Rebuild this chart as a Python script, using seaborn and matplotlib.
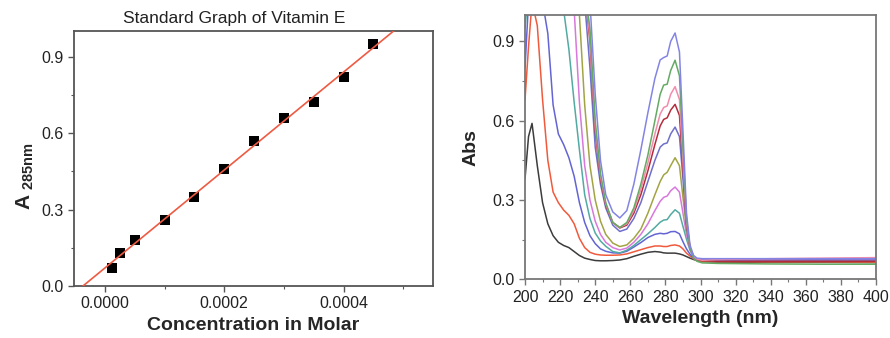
import matplotlib
matplotlib.use('Agg')
import matplotlib.pyplot as plt
import pandas as pd
import seaborn as sns
from matplotlib.ticker import MultipleLocator, FormatStrFormatter

# --- standard graph (left) ---
conc = [0.0000125, 0.000025, 0.00005, 0.0001, 0.00015, 0.0002,
        0.00025, 0.0003, 0.00035, 0.0004, 0.00045]
a285 = [0.072, 0.13, 0.18, 0.26, 0.35, 0.46, 0.57, 0.66, 0.72, 0.82, 0.95]

# --- UV spectra (right) ---
wl = [200, 202, 204, 207, 210, 213, 216, 219, 222, 225,
      228, 231, 234, 237, 240, 243, 246, 250, 254, 258,
      262, 266, 270, 274, 277, 279, 281, 283, 285.5, 288,
      290, 292, 294, 296, 298, 301, 310, 340, 370, 400]

abs_0 = [0.38, 0.54, 0.59, 0.43, 0.29, 0.21, 0.165, 0.14, 0.128, 0.12,
         0.105, 0.09, 0.08, 0.075, 0.071, 0.07, 0.07, 0.071, 0.073, 0.078,
         0.087, 0.095, 0.102, 0.105, 0.103, 0.10, 0.099, 0.099, 0.099, 0.096,
         0.092, 0.086, 0.08, 0.075, 0.071, 0.067, 0.065, 0.064, 0.064, 0.063]
abs_1 = [0.68, 0.88, 1.05, 0.96, 0.68, 0.45, 0.33, 0.29, 0.262, 0.242,
         0.21, 0.155, 0.12, 0.102, 0.095, 0.092, 0.091, 0.091, 0.092, 0.096,
         0.104, 0.112, 0.12, 0.126, 0.126, 0.124, 0.124, 0.128, 0.13, 0.126,
         0.115, 0.099, 0.088, 0.078, 0.072, 0.068, 0.067, 0.066, 0.066, 0.065]
abs_2 = [0.8, 1.05, 1.1, 1.1, 1.05, 0.93, 0.66, 0.55, 0.51, 0.46,
         0.39, 0.29, 0.215, 0.165, 0.135, 0.115, 0.106, 0.10, 0.099, 0.106,
         0.122, 0.139, 0.158, 0.17, 0.174, 0.172, 0.174, 0.18, 0.181, 0.172,
         0.142, 0.115, 0.095, 0.08, 0.074, 0.072, 0.073, 0.074, 0.074, 0.075]
abs_3 = [0.95, 1.1, 1.1, 1.1, 1.1, 1.1, 1.1, 1.1, 1.02, 0.87,
         0.67, 0.49, 0.32, 0.23, 0.175, 0.145, 0.125, 0.105, 0.10, 0.11,
         0.128, 0.15, 0.172, 0.196, 0.216, 0.224, 0.226, 0.245, 0.263, 0.25,
         0.2, 0.152, 0.11, 0.086, 0.076, 0.072, 0.07, 0.07, 0.07, 0.07]
abs_4 = [1.1, 1.1, 1.1, 1.1, 1.1, 1.1, 1.1, 1.1, 1.1, 1.1,
         1.02, 0.67, 0.43, 0.30, 0.22, 0.17, 0.14, 0.12, 0.111, 0.118,
         0.14, 0.17, 0.21, 0.26, 0.295, 0.31, 0.315, 0.335, 0.349, 0.33,
         0.25, 0.17, 0.115, 0.085, 0.075, 0.072, 0.072, 0.072, 0.073, 0.074]
abs_5 = [1.1, 1.1, 1.1, 1.1, 1.1, 1.1, 1.1, 1.1, 1.1, 1.1,
         1.1, 1.0, 0.66, 0.43, 0.30, 0.22, 0.17, 0.137, 0.124, 0.13,
         0.155, 0.19, 0.25, 0.32, 0.37, 0.395, 0.405, 0.43, 0.46, 0.43,
         0.31, 0.19, 0.12, 0.088, 0.075, 0.07, 0.068, 0.068, 0.068, 0.068]
abs_6 = [1.1, 1.1, 1.1, 1.1, 1.1, 1.1, 1.1, 1.1, 1.1, 1.1,
         1.1, 1.1, 1.05, 0.8, 0.5, 0.36, 0.27, 0.205, 0.181, 0.19,
         0.23, 0.29, 0.37, 0.45, 0.5, 0.512, 0.516, 0.55, 0.576, 0.54,
         0.38, 0.2, 0.12, 0.088, 0.078, 0.074, 0.073, 0.073, 0.073, 0.073]
abs_7 = [1.1, 1.1, 1.1, 1.1, 1.1, 1.1, 1.1, 1.1, 1.1, 1.1,
         1.1, 1.1, 1.1, 0.9, 0.56, 0.38, 0.28, 0.215, 0.194, 0.205,
         0.25, 0.32, 0.41, 0.51, 0.58, 0.605, 0.611, 0.64, 0.662, 0.62,
         0.42, 0.21, 0.12, 0.085, 0.075, 0.07, 0.068, 0.068, 0.068, 0.068]
abs_8 = [1.1, 1.1, 1.1, 1.1, 1.1, 1.1, 1.1, 1.1, 1.1, 1.1,
         1.1, 1.1, 1.1, 0.92, 0.58, 0.39, 0.285, 0.215, 0.196, 0.21,
         0.26, 0.34, 0.44, 0.55, 0.625, 0.65, 0.656, 0.70, 0.729, 0.68,
         0.45, 0.22, 0.12, 0.085, 0.076, 0.072, 0.075, 0.078, 0.08, 0.082]
abs_9 = [1.1, 1.1, 1.1, 1.1, 1.1, 1.1, 1.1, 1.1, 1.1, 1.1,
         1.1, 1.1, 1.1, 0.95, 0.6, 0.40, 0.29, 0.215, 0.196, 0.215,
         0.27, 0.36, 0.47, 0.6, 0.70, 0.735, 0.738, 0.79, 0.829, 0.77,
         0.5, 0.23, 0.12, 0.08, 0.068, 0.062, 0.06, 0.058, 0.057, 0.057]
abs_10 = [1.1, 1.1, 1.1, 1.1, 1.1, 1.1, 1.1, 1.1, 1.1, 1.1,
          1.1, 1.1, 1.1, 1.05, 0.7, 0.45, 0.32, 0.255, 0.232, 0.26,
          0.36, 0.49, 0.63, 0.76, 0.83, 0.839, 0.845, 0.90, 0.932, 0.86,
          0.56, 0.25, 0.13, 0.09, 0.08, 0.078, 0.078, 0.078, 0.078, 0.078]

spectra = [abs_0, abs_1, abs_2, abs_3, abs_4, abs_5,
           abs_6, abs_7, abs_8, abs_9, abs_10]
line_colors = ['#3c3c3c', '#f05a3c', '#6464d4', '#52aaa2', '#d878dc', '#a2a444',
               '#6f6fcc', '#b42c3c', '#f28cac', '#64aa64', '#8484e4']

rows = []
for i, s in enumerate(spectra):
    for w, a in zip(wl, s):
        rows.append({'wl': w, 'abs': a, 'sample': i})
df = pd.DataFrame(rows)

sns.set_style('ticks')
plt.rcParams['font.family'] = ['Liberation Sans', 'DejaVu Sans']
plt.rcParams['mathtext.fontset'] = 'custom'
plt.rcParams['mathtext.rm'] = 'Liberation Sans'
plt.rcParams['mathtext.bf'] = 'Liberation Sans:bold'

fig = plt.figure(figsize=(8.9, 3.38), dpi=100)
ax1 = fig.add_axes([0.0831, 0.1538, 0.4034, 0.7544])
ax2 = fig.add_axes([0.5899, 0.1737, 0.3944, 0.7819])

# left: standard graph with linear fit
ax1.set_xlim(-0.000052, 0.00055)
ax1.set_ylim(0, 1.0)
sns.regplot(x=conc, y=a285, ax=ax1, ci=None, truncate=False, marker='s',
            scatter_kws={'color': 'black', 's': 52, 'alpha': 1,
                         'linewidths': 0, 'zorder': 3},
            line_kws={'color': '#ee5a42', 'lw': 1.2, 'zorder': 4})
ax1.set_xlim(-0.000052, 0.00055)
ax1.set_ylim(0, 1.0)
ax1.xaxis.set_major_locator(MultipleLocator(0.0002))
ax1.xaxis.set_minor_locator(MultipleLocator(0.0001))
ax1.xaxis.set_major_formatter(FormatStrFormatter('%.4f'))
ax1.yaxis.set_major_locator(MultipleLocator(0.3))
ax1.yaxis.set_minor_locator(MultipleLocator(0.15))
ax1.yaxis.set_major_formatter(FormatStrFormatter('%.1f'))
ax1.set_xlabel('Concentration in Molar', fontsize=14, fontweight='bold')
ax1.set_ylabel(r'$\mathbf{A}_{\ \mathbf{285nm}}$', fontsize=15)
ax1.yaxis.label.set_y(0.43)
fig.text(234 / 890, 1 - 19 / 338, 'Standard Graph of Vitamin E',
         ha='center', va='center', fontsize=12.5, color='#222222')

# right: spectra
sns.lineplot(data=df, x='wl', y='abs', hue='sample', palette=line_colors,
             estimator=None, errorbar=None, legend=False, lw=1.1, ax=ax2)
ax2.set_xlim(200, 400)
ax2.set_ylim(0, 1.0)
ax2.xaxis.set_major_locator(MultipleLocator(20))
ax2.xaxis.set_minor_locator(MultipleLocator(10))
ax2.yaxis.set_major_locator(MultipleLocator(0.3))
ax2.yaxis.set_minor_locator(MultipleLocator(0.15))
ax2.yaxis.set_major_formatter(FormatStrFormatter('%.1f'))
ax2.set_xlabel('Wavelength (nm)', fontsize=14, fontweight='bold')
ax2.set_ylabel('Abs', fontsize=14, fontweight='bold', labelpad=9)

for ax, sc in [(ax1, '#555555'), (ax2, '#777777')]:
    for sp in ax.spines.values():
        sp.set_color(sc)
        sp.set_linewidth(1.3)
    ax.tick_params(which='major', direction='out', length=4, width=1,
                   color=sc, labelsize=11.5, labelcolor='#222222')
    ax.tick_params(which='minor', direction='out', length=2.5, width=0.8, color=sc)

fig.savefig('out.png', dpi=100)
